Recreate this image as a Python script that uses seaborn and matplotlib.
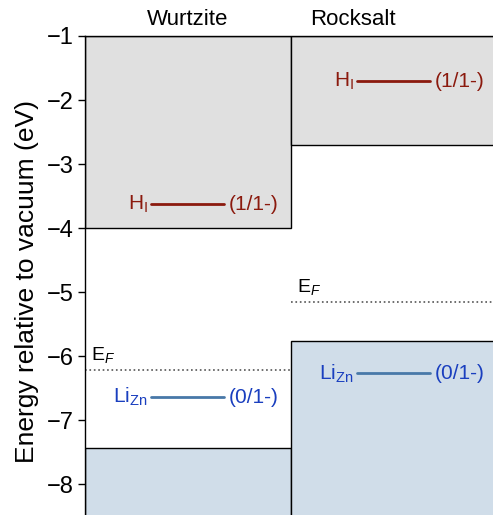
import numpy as np
import pandas as pd
import matplotlib
matplotlib.use("Agg")
import matplotlib.pyplot as plt
import seaborn as sns

# band edges and defect levels (eV relative to vacuum)
phases = ["Wurtzite", "Rocksalt"]
cbm = [-4.00, -2.70]
vbm = [-7.43, -5.77]
fermi = [-6.21, -5.15]
h_level = [-3.625, -1.71]
li_level = [-6.64, -6.27]
h_label = ["H$_\\mathrm{I}$", "H$_\\mathrm{I}$"]
li_label = ["Li$_\\mathrm{Zn}$", "Li$_\\mathrm{Zn}$"]
h_trans = ["(1/1-)", "(1/1-)"]
li_trans = ["(0/1-)", "(0/1-)"]
yticks = [-1, -2, -3, -4, -5, -6, -7, -8]

sns.set_style("ticks")
plt.rcParams["font.family"] = ["Liberation Sans", "DejaVu Sans"]
plt.rcParams["mathtext.fontset"] = "custom"
plt.rcParams["mathtext.rm"] = "Liberation Sans"
plt.rcParams["mathtext.it"] = "Liberation Sans:italic"
plt.rcParams["mathtext.sf"] = "Liberation Sans"
plt.rcParams["text.color"] = "black"
plt.rcParams["axes.labelcolor"] = "black"
plt.rcParams["ytick.color"] = "black"

ytop, ybot = -1.0, -8.48
gray = "#e0e0e0"
blue = "#d0dde9"
hcol = "#8b1a0e"
licol_txt = "#1a3fbf"
licol_line = "#4878a8"

fig = plt.figure(figsize=(4.93, 5.15), dpi=100)
ax = fig.add_axes([85 / 493, 0.0, 1 - 85 / 493, (515 - 36) / 515])

xpos = np.arange(len(phases))
# conduction band (gray) and valence band (blue)
ax.bar(xpos, [ytop - c for c in cbm], bottom=cbm, width=1.0, align="edge",
       color=gray, edgecolor="black", linewidth=1.0, zorder=1)
ax.bar(xpos, [v - (ybot - 1) for v in vbm], bottom=ybot - 1, width=1.0, align="edge",
       color=blue, edgecolor="black", linewidth=1.0, zorder=1)

# defect levels
lev = []
for i in range(len(phases)):
    lev.append({"x": i + 0.32, "y": h_level[i], "g": f"H{i}"})
    lev.append({"x": i + 0.675, "y": h_level[i], "g": f"H{i}"})
    lev.append({"x": i + 0.32, "y": li_level[i], "g": f"L{i}"})
    lev.append({"x": i + 0.675, "y": li_level[i], "g": f"L{i}"})
df = pd.DataFrame(lev)
pal = {"H0": hcol, "H1": hcol, "L0": licol_line, "L1": licol_line}
sns.lineplot(data=df, x="x", y="y", hue="g", palette=pal, linewidth=2.0,
             legend=False, ax=ax, zorder=3)

for i in range(len(phases)):
    ax.plot([i, i + 1], [fermi[i], fermi[i]], ls=":", color="#555555", lw=1.2, zorder=2)
    ax.text(i + 0.03, fermi[i] + 0.07, "E$_{F}$", fontsize=14, va="bottom", ha="left")
    ax.text(i + 0.305, h_level[i], h_label[i], color=hcol, fontsize=15, ha="right", va="center")
    ax.text(i + 0.70, h_level[i], h_trans[i], color=hcol, fontsize=15, ha="left", va="center")
    ax.text(i + 0.305, li_level[i], li_label[i], color=licol_txt, fontsize=15, ha="right", va="center")
    ax.text(i + 0.70, li_level[i], li_trans[i], color=licol_txt, fontsize=15, ha="left", va="center")

ax.text(0.5, ytop + 0.1, phases[0], fontsize=16, ha="center", va="bottom")
ax.text(1.3, ytop + 0.1, phases[1], fontsize=16, ha="center", va="bottom")

ax.set_xlim(0, (493 - 85) / 206)
ax.set_ylim(ybot, ytop)
ax.set_yticks(yticks)
ax.set_yticklabels([f"\u2212{abs(t)}" for t in yticks], fontsize=17)
ax.set_xticks([])
ax.set_xlabel("")
ax.set_ylabel("Energy relative to vacuum (eV)", fontsize=19)
ax.yaxis.set_label_coords(-0.113, 0.4885)
ax.tick_params(axis="y", direction="out", length=5, width=1, pad=3)
for s in ["right", "bottom"]:
    ax.spines[s].set_visible(False)
for s in ["left", "top"]:
    ax.spines[s].set_linewidth(1.0)
    ax.spines[s].set_color("black")

fig.savefig("out.png", dpi=100)
